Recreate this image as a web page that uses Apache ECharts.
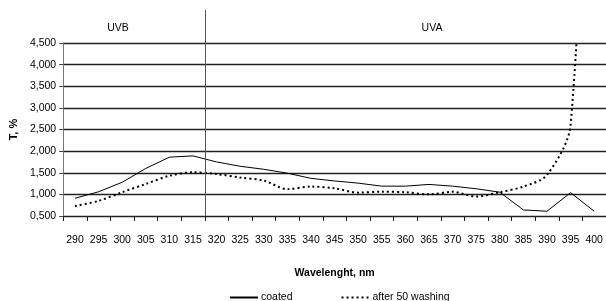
<!DOCTYPE html>
<html>
<head>
<meta charset="utf-8">
<script src="https://cdn.jsdelivr.net/npm/echarts@6/dist/echarts.min.js"></script>
<style>
html,body{margin:0;padding:0;background:#fff;}
#chart{width:606px;height:301px;}
</style>
</head>
<body>
<div id="chart"></div>
<script>
// wavelengths, nm
const categories=['290','295','300','305','310','315','320','325','330','335','340','345','350','355','360','365','370','375','380','385','390','395','400'];
// T, %
const coated=[0.91,1.06,1.28,1.60,1.86,1.89,1.75,1.65,1.58,1.49,1.37,1.31,1.26,1.19,1.19,1.23,1.19,1.13,1.05,0.64,0.61,1.04,0.61];
const washed=[0.73,0.85,1.05,1.24,1.43,1.51,1.47,1.39,1.32,1.12,1.18,1.14,1.04,1.06,1.05,1.00,1.06,0.95,1.05,1.18,1.45,2.6,14];
const yTicks=[0.5,1,1.5,2,2.5,3,3.5,4,4.5];
const bands=['UVB','UVA'];

const font='"Liberation Sans Narrow","Arial Narrow","Liberation Sans",Arial,sans-serif';
const fs=10.5;

const chart=echarts.init(document.getElementById('chart'));

chart.setOption({
    animation:false,
    color:['#000','#000'],
    textStyle:{fontFamily:font},
    grid:{left:58,right:-5,top:43,bottom:85,containLabel:false},
    legend:{
        left:224,
        top:287,
        itemWidth:28,
        itemHeight:12,
        itemGap:48,
        itemStyle:{opacity:0},
        textStyle:{fontFamily:font,fontSize:fs,color:'#000',padding:[0,0,0,-2]},
        data:['coated','after 50 washing']
    },
    xAxis:{
        type:'category',
        data:categories,
        boundaryGap:true,
        name:'Wavelenght, nm',
        nameLocation:'middle',
        nameGap:52,
        nameTextStyle:{fontFamily:font,fontSize:fs,fontWeight:'bold',color:'#000'},
        axisLine:{lineStyle:{color:'#222',width:1}},
        axisTick:{show:true,length:5,alignWithLabel:false,interval:0,lineStyle:{color:'#222'}},
        axisLabel:{fontFamily:font,fontSize:fs,color:'#000',margin:19,interval:0},
        splitLine:{show:false}
    },
    yAxis:{
        type:'value',
        min:0.5,
        max:4.5,
        interval:0.5,
        name:'T, %',
        nameLocation:'middle',
        nameGap:41,
        nameTextStyle:{fontFamily:font,fontSize:fs+0.5,fontWeight:'bold',color:'#000'},
        axisLine:{show:true,lineStyle:{color:'#777',width:1}},
        axisTick:{show:true,length:4,lineStyle:{color:'#444'}},
        axisLabel:{
            fontFamily:font,fontSize:fs,color:'#000',margin:7,
            formatter:function(v){
                let s=v.toFixed(3).split('.');
                return s[0]+','+s[1];
            }
        },
        splitLine:{show:true,lineStyle:{color:'#222',width:1.3}}
    },
    series:[
        {
            name:'coated',
            type:'line',
            data:coated,
            symbol:'none',
            clip:true,
            lineStyle:{color:'#000',width:1}
        },
        {
            name:'after 50 washing',
            type:'line',
            data:washed,
            symbol:'none',
            smooth:0.3,
            clip:true,
            lineStyle:{color:'#000',width:2,type:[2,3]}
        }
    ]
});

// divider between UVB and UVA, placed from the axis scale
function drawBands(){
    let a=chart.convertToPixel({xAxisIndex:0},'315');
    let b=chart.convertToPixel({xAxisIndex:0},'320');
    let x=Math.round((a+b)/2)+0.5;
    let yBottom=chart.convertToPixel({yAxisIndex:0},yTicks[0]);
    chart.setOption({
        graphic:[
            {type:'line',shape:{x1:x,y1:10,x2:x,y2:yBottom},style:{stroke:'#555',lineWidth:1},z:10},
            {type:'text',x:118,y:28,style:{text:bands[0],font:fs+'px '+font,fill:'#000',textAlign:'center',textVerticalAlign:'middle'}},
            {type:'text',x:432,y:28,style:{text:bands[1],font:fs+'px '+font,fill:'#000',textAlign:'center',textVerticalAlign:'middle'}}
        ]
    });
}
drawBands();
</script>
</body>
</html>
